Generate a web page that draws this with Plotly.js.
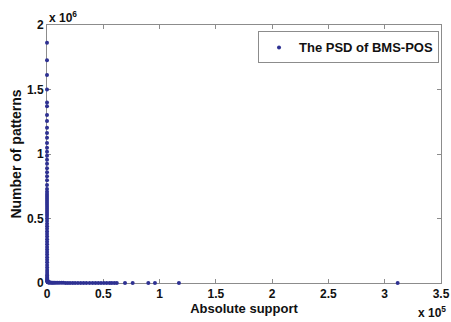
<!DOCTYPE html>
<html>
<head>
<meta charset="utf-8">
<script src="https://cdn.plot.ly/plotly-3.0.1.min.js"></script>
<style>html,body{margin:0;padding:0;background:#fff;}#chart{width:451px;height:322px;}</style>
</head>
<body>
<div id="chart"></div>
<script>
// Absolute support values (raw counts) and number of patterns at each support
const support = [
  2, 3, 4, 5, 6, 7, 8, 9, 10, 11, 12, 13, 14, 15, 16, 17, 18, 19, 20, 21, 22, 23, 24,
  25, 26, 27, 28, 29, 30, 31, 32, 33, 34, 35, 36, 37, 38, 39, 40, 42, 44, 46, 48, 50,
  53, 56, 60, 64, 68, 72, 77, 82, 88, 95, 102, 110, 120, 130, 142, 155, 170, 190, 210,
  240, 270, 310, 360, 420, 500, 600, 750, 900, 1100, 1400, 1800, 2300, 3000, 3800,
  4700, 5600, 6800, 8000, 9500, 11000, 12800, 14500, 16500, 18500, 20500, 22800, 25000,
  27500, 30000, 32500, 35000, 37800, 40500, 43000, 45500, 48000, 50500, 53000, 55500,
  57500, 59800, 62000, 69300, 76100, 90000, 95900, 117200, 311500
];
const patterns = [
  1863000, 1726000, 1612000, 1500000, 1400000, 1370000, 1302000, 1256000, 1204000,
  1163000, 1126000, 1085000, 1049000, 1018000, 987000, 956000, 925000, 889000, 858000,
  827000, 796000, 760000, 729000, 708000, 690000, 674000, 659000, 643000, 628000,
  612000, 597000, 581000, 566000, 550000, 535000, 520000, 500000, 480000, 460000,
  440000, 420000, 400000, 380000, 360000, 340000, 320000, 300000, 280000, 260000,
  240000, 220000, 200000, 180000, 160000, 140000, 120000, 100000, 85000, 70000, 58000,
  47000, 38000, 31000, 25000, 20000, 16000, 13000, 11000, 9500, 8200, 7000, 6000,
  5200, 4500, 3900, 3400, 3000, 2600, 2300, 2000, 1800, 1600, 1400, 1250, 1100, 980,
  870, 770, 690, 610, 540, 480, 430, 380, 340, 300, 270, 240, 210, 190, 170, 150, 130,
  115, 100, 90, 60, 40, 25, 15, 8, 1
];
const xTickVals = [0, 50000, 100000, 150000, 200000, 250000, 300000, 350000];
const xTickText = ['0', '0.5', '1', '1.5', '2', '2.5', '3', '3.5'];
const yTickVals = [0, 500000, 1000000, 1500000, 2000000];
const yTickText = ['0', '0.5', '1', '1.5', '2'];

const fontFam = 'Liberation Sans, Arial, sans-serif';
const bold = arr => arr.map(t => '<b>' + t + '</b>');
const trace = {
  x: support, y: patterns, type: 'scatter', mode: 'markers',
  name: '<b>The PSD of BMS-POS</b>',
  marker: {color: '#2e3192', size: 4, line: {width: 0}},
  cliponaxis: false
};
const axisCommon = {
  showgrid: false, zeroline: false, showline: true, linecolor: '#8c8c8c', linewidth: 1,
  mirror: 'allticks', ticks: 'inside', ticklen: 4, tickcolor: '#8c8c8c',
  tickfont: {family: fontFam, size: 12, color: '#111'}, layer: 'below traces'
};
const layout = {
  width: 451, height: 322,
  margin: {l: 47, r: 10, t: 25, b: 39},
  paper_bgcolor: '#fff', plot_bgcolor: '#fff',
  showlegend: true,
  legend: {
    x: 0.995, y: 0.975, xanchor: 'right', yanchor: 'top',
    bordercolor: '#8c8c8c', borderwidth: 1, bgcolor: '#fff',
    font: {family: fontFam, size: 13, color: '#111'},
    itemwidth: 30
  },
  xaxis: Object.assign({}, axisCommon, {
    range: [0, 350000], tickvals: xTickVals, ticktext: bold(xTickText),
    title: {text: '<b>Absolute support</b>', font: {family: fontFam, size: 13, color: '#111'}, standoff: 0}
  }),
  yaxis: Object.assign({}, axisCommon, {
    range: [0, 2000000], tickvals: yTickVals, ticktext: bold(yTickText),
    title: {text: '<b>Number of patterns</b>', font: {family: fontFam, size: 14, color: '#111'}, standoff: 2}
  }),
  annotations: [
    {xref: 'paper', yref: 'paper', x: 0, y: 1, xanchor: 'left', yanchor: 'bottom',
     text: '<b>x 10<sup>6</sup></b>', showarrow: false,
     font: {family: fontFam, size: 12, color: '#111'}, xshift: 0, yshift: -2},
    {xref: 'paper', yref: 'paper', x: 1, y: 0, xanchor: 'right', yanchor: 'top',
     text: '<b>x 10<sup>5</sup></b>', showarrow: false,
     font: {family: fontFam, size: 12, color: '#111'}, xshift: 7, yshift: -19}
  ]
};
Plotly.newPlot('chart', [trace], layout, {displayModeBar: false, staticPlot: true});
</script>
</body>
</html>
